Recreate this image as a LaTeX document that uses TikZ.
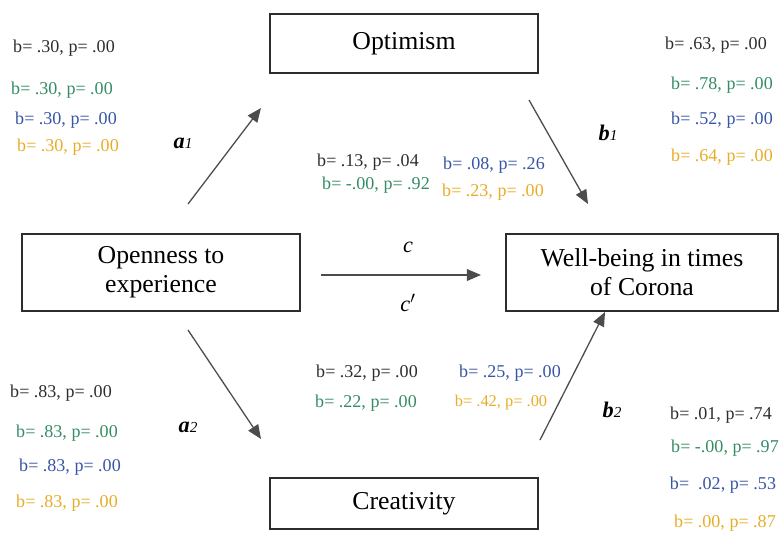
\documentclass[tikz,border=0pt]{standalone}
\usepackage{fontspec}
\setmainfont{Liberation Serif}
\usepackage{tikz}
\usetikzlibrary{arrows.meta}
\definecolor{ink}{RGB}{45,45,45}
\definecolor{green}{RGB}{52,140,100}
\definecolor{blue}{RGB}{55,85,165}
\definecolor{gold}{RGB}{232,172,40}

\begin{document}
\begin{tikzpicture}[x=0.03cm, y=-0.03cm,
    varbox/.style={draw=ink, line width=1.8pt, inner sep=0pt, align=center,
                   font=\fontsize{22}{24.7}\selectfont},
    coef/.style={inner sep=0pt, font=\fontsize{15.4}{18}\selectfont},
    pathlbl/.style={inner sep=0pt, font=\fontsize{19}{20}\selectfont},
    arr/.style={draw=ink!85, line width=1.1pt, -{Triangle[length=12pt,width=10pt]}}]
    \useasboundingbox (0,0) rectangle (782,533);

    %% Variables
    \node[varbox, minimum width=8.04cm, minimum height=1.77cm] (opt) at (404,43.5) {Optimism};
    \node[varbox, minimum width=8.04cm, minimum height=1.53cm] (cre) at (404,503.5) {Creativity};
    \node[varbox, minimum width=8.34cm, minimum height=2.31cm] (open) at (161,272.5) {Openness to\\experience};
    \node[varbox, minimum width=8.16cm, minimum height=2.31cm] (well) at (642,272.5) {Well-being in times\\of Corona};

    %% Path ends
    \coordinate (a1s) at (188,204); \coordinate (a1e) at (261,108);
    \coordinate (b1s) at (529,100); \coordinate (b1e) at (588,204);
    \coordinate (a2s) at (188,330); \coordinate (a2e) at (261,439);
    \coordinate (b2s) at (540,440); \coordinate (b2e) at (605,312);
    \coordinate (cs) at (321,275);  \coordinate (ce) at (481,275);

    \draw[arr] (a1s) -- (a1e);
    \draw[arr] (b1s) -- (b1e);
    \draw[arr] (a2s) -- (a2e);
    \draw[arr] (b2s) -- (b2e);
    \draw[arr] (cs) -- (ce);

    %% Path labels
    \node[pathlbl] (la1) at (183,143) {\textbf{\textit{a}}{\fontsize{13}{14}\selectfont\textit{1}}};
    \node[pathlbl] (lb1) at (608,133) {\textbf{\textit{b}}{\fontsize{13}{14}\selectfont\textit{1}}};
    \node[pathlbl] (la2) at (188,427) {\textbf{\textit{a}}{\fontsize{13}{14}\selectfont\textit{2}}};
    \node[pathlbl] (lb2) at (612,410) {\textbf{\textit{b}}{\fontsize{13}{14}\selectfont\textit{2}}};
    \node[pathlbl] (lc) at (408,247) {\textit{c}};
    \node[pathlbl] (lcp) at (408,303) {\textit{c}$'$};

    %% a1 coefficients
    \node[coef, ink]   (a1k) at (64,48)  {b= .30, p= .00};
    \node[coef, green] (a1g) at (62,90)  {b= .30, p= .00};
    \node[coef, blue]  (a1b) at (66,120) {b= .30, p= .00};
    \node[coef, gold]  (a1y) at (68,147) {b= .30, p= .00};

    %% b1 coefficients
    \node[coef, ink]   (b1k) at (716,45)  {b= .63, p= .00};
    \node[coef, green] (b1g) at (722,85)  {b= .78, p= .00};
    \node[coef, blue]  (b1b) at (722,120) {b= .52, p= .00};
    \node[coef, gold]  (b1y) at (722,157) {b= .64, p= .00};

    %% c coefficients
    \node[coef, ink]   (ck) at (368,162) {b= .13, p= .04};
    \node[coef, green] (cg) at (376,185) {b= -.00, p= .92};
    \node[coef, blue]  (cb) at (494,165) {b= .08, p= .26};
    \node[coef, gold]  (cy) at (493,192) {b= .23, p= .00};

    %% c' coefficients
    \node[coef, ink]   (cpk) at (367,373) {b= .32, p= .00};
    \node[coef, green] (cpg) at (366,403) {b= .22, p= .00};
    \node[coef, blue]  (cpb) at (510,373) {b= .25, p= .00};
    \node[coef, gold, font=\fontsize{14}{16}\selectfont] (cpy) at (501,403) {b= .42, p= .00};

    %% a2 coefficients
    \node[coef, ink]   (a2k) at (61,393) {b= .83, p= .00};
    \node[coef, green] (a2g) at (67,433) {b= .83, p= .00};
    \node[coef, blue]  (a2b) at (70,467) {b= .83, p= .00};
    \node[coef, gold]  (a2y) at (67,503) {b= .83, p= .00};

    %% b2 coefficients
    \node[coef, ink]   (b2k) at (721,415) {b= .01, p= .74};
    \node[coef, green] (b2g) at (725,448) {b= -.00, p= .97};
    \node[coef, blue]  (b2b) at (723,485) {b=\ \ .02, p= .53};
    \node[coef, gold]  (b2y) at (725,523) {b= .00, p= .87};

\end{tikzpicture}
\end{document}
